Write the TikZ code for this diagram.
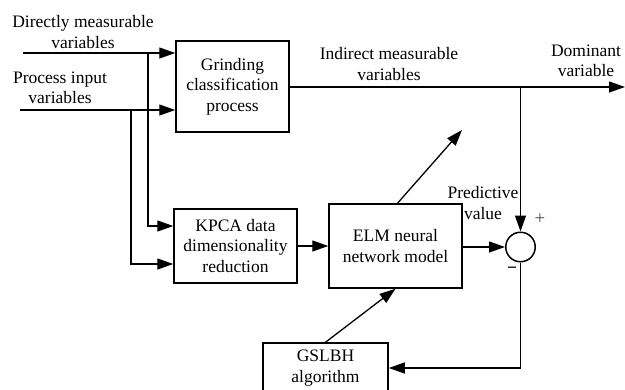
\documentclass[tikz,border=0pt]{standalone}
\usepackage{fontspec}
\setmainfont{Liberation Serif}
\usetikzlibrary{arrows.meta,positioning}

\begin{document}
\begin{tikzpicture} [
	   x=1pt, y=-1pt,
	   every node/.style = { font=\fontsize{17.5}{20.5}\selectfont },
	   block/.style    = { rectangle, draw, line width=1.5pt, align=center, inner sep=0pt },
	   junction/.style = { circle, draw, line width=1.5pt, minimum size=29.5pt, inner sep=0pt },
	   line/.style     = { draw, line width=1.3pt, ->, >={Triangle[length=16pt,width=11pt]} },
	   lbl/.style      = { align=center, inner sep=0pt },
	 ]
	  \useasboundingbox (0,0) rectangle (625,389);

	  % Define blocks
	  \node [block, minimum width=113pt, minimum height=91pt] (grind) at (232.5,86.5) {Grinding\\classification\\process};
	  \node [block, minimum width=123pt, minimum height=74pt] (kpca) at (235.5,246) {KPCA data\\dimensionality\\reduction};
	  \node [block, minimum width=133pt, minimum height=84pt] (elm) at (395.5,246) {ELM neural\\network model};
	  \node [junction] (sum) at (520.5,247) {};
	  \node [block, minimum width=125pt, minimum height=50pt] (gslbh) at (325.5,368) {GSLBH\\algorithm};

	  % free ends and branch points
	  \coordinate (in1) at (23,53);
	  \coordinate (in2) at (20,110);
	  \coordinate (br1) at (148,53);
	  \coordinate (br2) at (131,110);
	  \coordinate (out) at (625,87);
	  \coordinate (tap) at (sum.north |- out);
	  \coordinate (diag) at (462,130);

	  % labels
	  \node [lbl] (dmv) at (83,32) {Directly measurable\\variables};
	  \node [lbl] (piv) at (60,88) {Process input\\variables};
	  \node [lbl] (imv) at (389,64) {Indirect measurable\\variables};
	  \node [lbl] (dom) at (586,61) {Dominant\\variable};
	  \node [lbl] (pred) at (483,203) {Predictive\\value};
	  \node [lbl, font=\fontsize{19}{19}\selectfont, text=black!70] (plus) at (540,219) {+};
	  \node [lbl, font=\fontsize{17.5}{17.5}\selectfont\bfseries] (minus) at (512,270) {\textminus};

	 % connect all nodes defined above
	  \begin{scope} [every path/.style=line]
		\path (in1) -- (in1 -| grind.west);
		\path (in2) -- (in2 -| grind.west);
	%
		\path (br1) |- ([yshift=20pt]kpca.west);
		\path (br2) |- ([yshift=-18pt]kpca.west);
	%
		\path (grind.east |- out) -- (out);
		\path (tap) -- (sum.north);
	%
		\path (kpca) -- (elm);
		\path (elm.east |- sum) -- (sum.west);
		\path ([xshift=2pt]elm.north) -- (diag);
	%
		\path (sum.south) |- (gslbh.east);
		\path (gslbh.north) -- (elm.south);
	 \end{scope}
	\end{tikzpicture}
\end{document}
